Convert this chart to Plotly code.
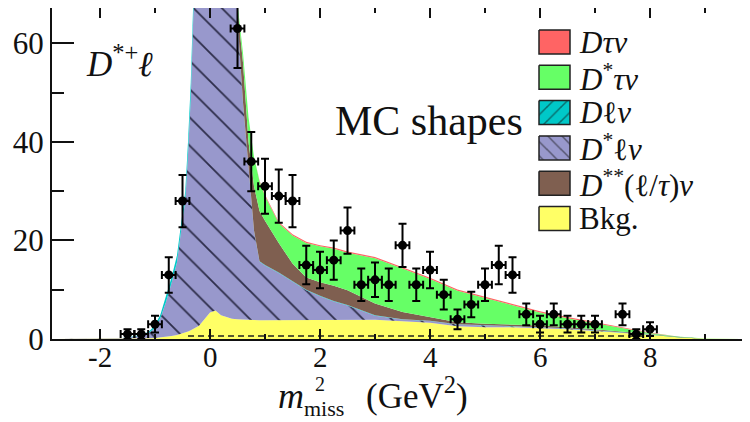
import plotly.graph_objects as go

# ---------------- data ----------------
# common x grid of the MC shapes (m_miss^2, GeV^2)
mc_x = [-2.8, -1.6, -1.4, -1.2, -1.1, -1.0, -0.9, -0.8, -0.7, -0.6, -0.5, -0.45, -0.4, -0.35, -0.3,
        -0.2, 0.0, 0.1, 0.2, 0.4, 0.5, 0.6, 0.7, 0.8, 0.9, 1.0, 1.25, 1.5, 1.75, 2.0, 2.25, 2.5,
        3.0, 3.5, 4.0, 4.5, 5.0, 5.5, 6.0, 6.5, 7.0, 7.5, 8.0, 8.5, 9.0, 9.8]

# cumulative (stacked) upper edges of each component
bkg_top = [0, 0, 0.05, 0.1, 0.15, 0.2, 0.3, 0.5, 0.6, 0.8, 1.1, 1.3, 1.5, 1.8, 2.1,
           2.7, 5.4, 5.8, 4.8, 4.1, 4.0, 3.9, 3.9, 3.85, 3.8, 3.8, 3.8, 3.8, 3.85, 3.85, 3.9, 3.9,
           3.9, 3.6, 3.3, 2.6, 2.4, 2.4, 2.2, 2.0, 1.6, 1.2, 0.8, 0.35, 0.05, 0]
dstar_lnu_top = [0, 0.2, 0.4, 0.8, 1.3, 2.3, 4.3, 7.5, 11.3, 15.6, 24.2, 28, 37.5, 49, 67,
                 92, 118, 118.5, 114, 89.5, 64.7, 47.8, 34.9, 21.9, 15.7, 14.9, 13.4, 11.7, 9.9, 8.7, 7.6, 6.8,
                 4.7, 3.95, 3.65, 2.95, 2.75, 2.65, 2.45, 2.15, 1.75, 1.35, 0.85, 0.35, 0.05, 0]
d_lnu_top = [0, 0.2, 0.5, 1.0, 1.6, 2.8, 5.0, 8.5, 12.5, 17, 26, 30, 40, 52, 70,
             95, 120, 120, 115, 90, 65, 48, 35, 22, 15.8, 15.0, 13.5, 11.8, 10.0, 8.8, 7.7, 6.9,
             4.8, 4.0, 3.7, 3.0, 2.8, 2.7, 2.5, 2.2, 1.8, 1.4, 0.9, 0.4, 0.05, 0]
dss_top = [0, 0.2, 0.5, 1.0, 1.6, 2.8, 5.0, 8.5, 12.5, 17, 26, 30, 40, 52, 70,
           95, 120, 120, 115, 90, 67, 56, 40, 31, 26, 24, 19.5, 15.3, 12.5, 11.5, 10.8, 9.9,
           7.2, 5.5, 4.5, 3.4, 3.1, 3.0, 2.75, 2.45, 2.0, 1.55, 1.0, 0.45, 0.06, 0]
dstar_taunu_top = [0, 0.2, 0.5, 1.0, 1.6, 2.8, 5.0, 8.5, 12.5, 17, 26, 30, 40, 52, 70,
                   95, 120, 120, 115, 90, 68, 58, 45, 37, 32, 29, 23.5, 21, 19.5, 18.8, 18.3, 17.5,
                   16.4, 14.3, 12.2, 9.8, 8.3, 6.8, 5.4, 4.2, 3.2, 2.1, 1.2, 0.5, 0.1, 0]
d_taunu_top = [0, 0.2, 0.5, 1.0, 1.6, 2.8, 5.0, 8.5, 12.5, 17, 26, 30, 40, 52, 70,
               95, 120, 120, 115, 90, 68, 58, 45, 37, 32.15, 29.25, 23.75, 21.25, 19.75, 19.05, 18.55, 17.75,
               16.65, 14.55, 12.45, 10.05, 8.55, 7.05, 5.65, 4.45, 3.45, 2.35, 1.3, 0.5, 0.1, 0]

dashed_x = [-0.4, 8.1]
dashed_y = [0.6, 0.6]

# data points
data_x = [-1.5, -1.25, -1.0, -0.75, -0.5, 0.5, 0.75, 1.0, 1.25, 1.5, 1.75, 2.0, 2.25, 2.5, 2.75,
          3.0, 3.25, 3.5, 3.75, 4.0, 4.25, 4.5, 4.75, 5.0, 5.25, 5.5, 5.75, 6.0, 6.25, 6.5,
          6.75, 7.0, 7.5, 7.75, 8.0]
data_y = [1, 1, 3, 13, 28, 63, 36, 31, 29, 28, 15, 14, 16, 22, 11,
          12, 11, 19, 11, 14, 9, 4, 7, 11, 15, 13, 5, 3, 5, 3,
          3, 3, 5, 1, 2]
data_err = [1, 1, 1.7, 3.6, 5.3, 8, 6, 5.6, 5.4, 5.3, 3.9, 3.7, 4, 4.7, 3.3,
            3.5, 3.3, 4.4, 3.3, 3.7, 3, 2, 2.6, 3.3, 3.9, 3.6, 2.2, 1.7, 2.2, 1.7,
            1.7, 1.7, 2.2, 1, 1.4]
bin_half = 0.125

x_ticks = [-2, 0, 2, 4, 6, 8]
x_ticklabels = ["-2", "0", "2", "4", "6", "8"]
y_ticks = [0, 20, 40, 60]
y_ticklabels = ["0", "20", "40", "60"]

legend_labels = ["<i>Dτν</i>", "<i>D</i><sup>*</sup><i>τν</i>", "<i>D</i>ℓ<i>ν</i>",
                 "<i>D</i><sup>*</sup>ℓ<i>ν</i>", "<i>D</i><sup>**</sup>(ℓ/<i>τ</i>)<i>ν</i>", "Bkg."]

# ---------------- styles ----------------
C_RED = "#ff6464"
C_GREEN = "#66ff66"
C_CYAN = "#00c8c8"
C_LAV = "#9898cc"
C_BROWN = "#7f5f50"
C_YEL = "#ffff66"
SERIF = "Liberation Serif"
INK = "#111111"

legend_colors = [C_RED, C_GREEN, C_CYAN, C_LAV, C_BROWN, C_YEL]
legend_patterns = ["", "", "/", "\\", "", ""]

# page offset (browser body margin) and plot-area pixel box on the screenshot
PAGE = 8
PX_L, PX_R, PX_T, PX_B = 52, 750, 8, 339
FIG_W, FIG_H = 750 - PAGE, 422 - PAGE


def px2paper(px, py):
    return (px - PX_L) / (PX_R - PX_L), (PX_B - py) / (PX_B - PX_T)


fig = go.Figure()


def band(y, color, fill, pattern=None):
    kw = dict(x=mc_x, y=y, mode="lines", line=dict(width=0, color=color),
              fill=fill, fillcolor=color, hoverinfo="skip", showlegend=False)
    if pattern:
        kw["fillpattern"] = dict(shape=pattern, fgcolor="#1a1a33", fgopacity=0.85,
                                 bgcolor=color, size=20, solidity=0.09)
    fig.add_trace(go.Scatter(**kw))


band(bkg_top, C_YEL, "tozeroy")
band(dstar_lnu_top, C_LAV, "tonexty", "\\")
band(d_lnu_top, C_CYAN, "tonexty")
band(dss_top, C_BROWN, "tonexty")
band(dstar_taunu_top, C_GREEN, "tonexty")
band(d_taunu_top, C_RED, "tonexty")

fig.add_trace(go.Scatter(x=dashed_x, y=dashed_y, mode="lines",
                         line=dict(color="#222", width=1.5, dash="6px,4px"),
                         hoverinfo="skip", showlegend=False))

fig.add_trace(go.Scatter(
    x=data_x, y=data_y, mode="markers",
    marker=dict(color="black", size=9),
    error_y=dict(type="data", array=data_err, thickness=2, width=4, color="black"),
    error_x=dict(type="constant", value=bin_half, thickness=2, width=4, color="black"),
    showlegend=False, hoverinfo="skip"))

# ---------------- custom legend on a pixel overlay axis ----------------
box_l, box_r, box_h = 539, 570, 24
row0, row_step = 42, 35.3


def note(px, py, text, size, anchor="left"):
    ax, ay = px2paper(px, py)
    fig.add_annotation(x=ax, y=ay, xref="paper", yref="paper", text=text, showarrow=False,
                       xanchor=anchor, yanchor="middle",
                       font=dict(family=SERIF, size=size, color=INK))


for i, (lab, col, pat) in enumerate(zip(legend_labels, legend_colors, legend_patterns)):
    cy = row0 + i * row_step
    t, b = cy - box_h / 2, cy + box_h / 2
    kw = dict(x=[box_l, box_r, box_r, box_l, box_l], y=[t, t, b, b, t], xaxis="x2", yaxis="y2",
              mode="lines", fill="toself", fillcolor=col, line=dict(color="#222", width=1.5),
              hoverinfo="skip", showlegend=False)
    if pat:
        kw["fillpattern"] = dict(shape=pat, fgcolor="#111", bgcolor=col, size=10, solidity=0.15)
    fig.add_trace(go.Scatter(**kw))
    note(577, cy, lab, 31)

note(84, 61, "<i>D</i><sup>*+</sup><i>ℓ</i>", 35)
note(333, 121, "MC shapes", 42)
# x-axis title pieces
note(276, 396, "<i>m</i>", 36)
note(313, 384, "2", 20)
note(302, 408, "miss", 22)
note(364, 393, "(GeV<sup>2</sup>)", 35)

# x tick labels placed on the x scale, just below the axis
for v, t in zip(x_ticks, x_ticklabels):
    fig.add_annotation(x=v, y=px2paper(0, 357)[1], xref="x", yref="paper", text=t,
                       showarrow=False, xanchor="center", yanchor="middle",
                       font=dict(family=SERIF, size=29, color=INK))

axis_font = dict(family=SERIF, size=31, color=INK)
fig.update_layout(
    width=FIG_W, height=FIG_H,
    margin=dict(l=PX_L - PAGE, r=0, t=PX_T - PAGE, b=FIG_H - (PX_B - PAGE), pad=0, autoexpand=False),
    paper_bgcolor="white", plot_bgcolor="white",
    showlegend=False,
    font=dict(family=SERIF, color=INK),
    xaxis=dict(range=[-2.873, 9.818], tickvals=x_ticks, ticktext=x_ticklabels, showticklabels=False,
               ticks="inside", ticklen=10, tickwidth=2, tickcolor=INK, showline=True, linewidth=2,
               linecolor=INK, mirror="ticks", showgrid=False, zeroline=False,
               minor=dict(dtick=1, tick0=0, ticks="inside", ticklen=5, tickwidth=2, tickcolor=INK)),
    yaxis=dict(range=[0, 67.17], tickvals=y_ticks, ticktext=y_ticklabels, ticks="inside",
               ticklen=22, tickwidth=2, tickcolor=INK, showline=True, linewidth=2, linecolor=INK,
               showgrid=False, zeroline=False, tickfont=axis_font,
               minor=dict(dtick=10, tick0=0, ticks="inside", ticklen=12, tickwidth=2, tickcolor=INK)),
    xaxis2=dict(range=[PX_L, PX_R], overlaying="x", visible=False, fixedrange=True),
    yaxis2=dict(range=[PX_B, PX_T], overlaying="y", visible=False, fixedrange=True),
)

fig.write_html("out.html")
